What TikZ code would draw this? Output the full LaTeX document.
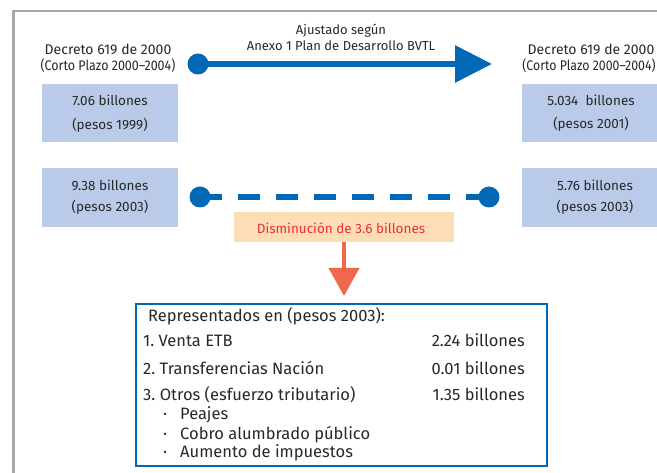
\documentclass[tikz,border=0pt]{standalone}
\usepackage{fontspec}
\setmainfont{Fira Sans}
\usetikzlibrary{arrows.meta}
\definecolor{mblue}{RGB}{0,104,180}
\definecolor{boxblue}{RGB}{185,203,232}
\definecolor{peach}{RGB}{253,221,183}
\definecolor{redtxt}{RGB}{232,48,48}
\definecolor{orarrow}{RGB}{238,104,76}
\definecolor{framegray}{RGB}{168,168,168}
\definecolor{txt}{RGB}{40,40,40}
\tikzset{
  vbox/.style={fill=boxblue, draw=none, minimum width=136pt, minimum height=58pt, inner sep=0pt},
  boxtxt/.style={text=txt, font=\fontsize{13.5}{15}\selectfont, inner sep=0pt, align=center},
  lbl/.style={text=txt, font=\fontsize{14}{16}\selectfont, inner sep=0pt, align=center},
  dot/.style={circle, fill=mblue, draw=none, minimum size=21pt, inner sep=0pt},
  btxt/.style={text=txt, font=\fontsize{16.5}{18}\selectfont, inner sep=0pt, anchor=base west},
  bval/.style={text=txt, font=\fontsize{16.5}{18}\selectfont, inner sep=0pt, anchor=base east},
}
\begin{document}
\begin{tikzpicture}[x=1pt,y=-1pt]
\useasboundingbox (0,0) rectangle (657,473);
% frame
\draw[framegray, line width=2.5pt] (13.5,473) -- (13.5,11) -- (657,11);

% top labels
\node[lbl] (ldec) at (108,49) {Decreto 619 de 2000};
\node[lbl] (lcp) at (108,66) {\scalebox{0.89}[1]{(Corto Plazo 2000--2004)}};
\node[lbl] (rdec) at (591,49) {Decreto 619 de 2000};
\node[lbl] (rcp) at (589,66) {\scalebox{0.88}[1]{(Corto Plazo 2000--2004)}};
\node[lbl, font=\fontsize{13}{15}\selectfont] (adj) at (341,31) {Ajustado según};
\node[lbl, font=\fontsize{13}{15}\selectfont] (anx) at (341,46) {Anexo 1 Plan de Desarrollo BVTL};

% top boxes
\node[vbox] (b1) at (110,113.5) {};
\node[boxtxt] at (110,100) {7.06 billones};
\node[boxtxt] at (110,125) {(pesos 1999)};
\node[vbox, minimum width=135pt] (b2) at (589.5,113.5) {};
\node[boxtxt] at (591,100) {5.034\ \ billones};
\node[boxtxt] at (591,124) {(pesos 2001)};

% top arrow
\node[dot] (d1) at (198,64) {};
\coordinate (tip) at (492,64);
\draw[mblue, line width=6pt, -{Triangle[length=37pt,width=36pt]}] (d1.center) -- (tip);

% middle boxes
\node[vbox, minimum height=59pt] (b3) at (110,197.5) {};
\node[boxtxt] at (110,185) {9.38 billones};
\node[boxtxt] at (110,207) {(pesos 2003)};
\node[vbox, minimum width=135pt, minimum height=59pt] (b4) at (589.5,197.5) {};
\node[boxtxt] at (595,185) {5.76 billones};
\node[boxtxt] at (595,207) {(pesos 2003)};

% dashed line
\node[dot] (d2) at (200,197) {};
\node[dot] (d3) at (489,197) {};
\draw[mblue, line width=6pt, dash pattern=on 22pt off 16pt] (d2.center) -- (d3.center);

% decrease box
\node[fill=peach, minimum width=220pt, minimum height=30pt, inner sep=0pt] (dis) at (344,227) {};
\node[text=redtxt, font=\fontsize{13.5}{15}\selectfont, inner sep=0pt] at (341,228) {Disminución de 3.6 billones};
\coordinate (atip) at (344,296);
\draw[orarrow, line width=4pt, -{Triangle[length=28pt,width=30pt]}] (dis.south) -- (atip);

% bottom box
\draw[mblue, line width=2pt] (136,304) rectangle (547,466);
\node[btxt] (r0) at (148,322) {Representados en (pesos 2003):};
\node[btxt] (r1) at (143,347) {1.\ Venta ETB};
\node[bval] (v1) at (525,347) {2.24 billones};
\node[btxt] (r2) at (143,375) {2.\ Transferencias Nación};
\node[bval] (v2) at (525,375) {0.01 billones};
\node[btxt] (r3) at (143,401) {3.\ Otros (esfuerzo tributario)};
\node[bval] (v3) at (525,401) {1.35 billones};
\node[btxt] (s1d) at (163,420) {·};
\node[btxt] (s1) at (180,420) {Peajes};
\node[btxt] (s2d) at (163,439) {·};
\node[btxt] (s2) at (180,439) {Cobro alumbrado público};
\node[btxt] (s3d) at (163,458) {·};
\node[btxt] (s3) at (180,458) {Aumento de impuestos};
\end{tikzpicture}
\end{document}
